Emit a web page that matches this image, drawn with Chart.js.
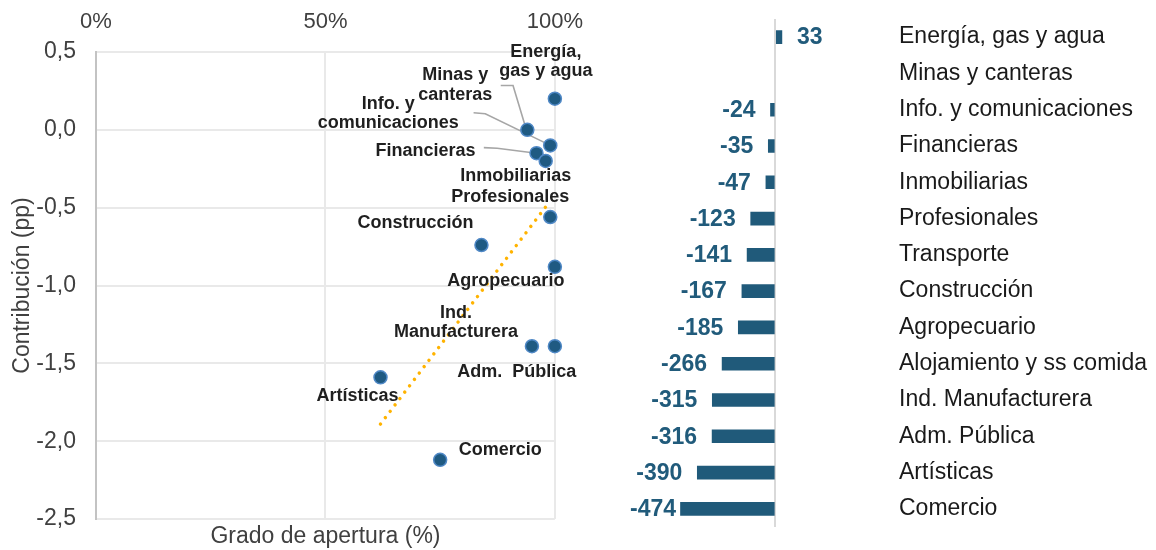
<!DOCTYPE html>
<html>
<head>
<meta charset="utf-8">
<script src="https://cdn.jsdelivr.net/npm/chart.js@4.4.1/dist/chart.umd.min.js"></script>
<style>
  html, body { margin: 0; padding: 0; background: #ffffff; }
  #wrap { position: relative; width: 1156px; height: 550px; overflow: hidden; }
  #c1 { position: absolute; left: 0; top: 0; }
  #c2 { position: absolute; left: 600px; top: 0; }
</style>
</head>
<body>
<div id="wrap">
  <canvas id="c1" width="600" height="550"></canvas>
  <canvas id="c2" width="556" height="550"></canvas>
</div>
<script>
// ---------------- DATA ----------------
const sectors = ['Energía, gas y agua', 'Minas y canteras', 'Info. y comunicaciones', 'Financieras',
  'Inmobiliarias', 'Profesionales', 'Construcción', 'Agropecuario', 'Ind. Manufacturera',
  'Adm. Pública', 'Artísticas', 'Comercio'];
const sectorLabelLines = [['Energía,', 'gas y agua'], ['Minas y', 'canteras'], ['Info. y', 'comunicaciones'],
  ['Financieras'], ['Inmobiliarias'], ['Profesionales'], ['Construcción'], ['Agropecuario'],
  ['Ind.', 'Manufacturera'], ['Adm.  Pública'], ['Artísticas'], ['Comercio']];
const apertura = [100, 94, 99, 96, 98, 99, 84, 100, 95, 100, 62, 75];               // %
const contribucion = [0.2, 0.0, -0.1, -0.15, -0.2, -0.56, -0.74, -0.88, -1.39, -1.39, -1.59, -2.12]; // pp
const trendX = [62, 98.9];
const trendY = [-1.89, -0.46];
const xTickValues = [0, 50, 100];
const yTickValues = [0.5, 0, -0.5, -1, -1.5, -2, -2.5];

const barCategories = ['Energía, gas y agua', 'Minas y canteras', 'Info. y comunicaciones', 'Financieras',
  'Inmobiliarias', 'Profesionales', 'Transporte', 'Construcción', 'Agropecuario',
  'Alojamiento y ss comida', 'Ind. Manufacturera', 'Adm. Pública', 'Artísticas', 'Comercio'];
const barValues = [33, null, -24, -35, -47, -123, -141, -167, -185, -266, -315, -316, -390, -474];

// ---------------- STYLE / LAYOUT ----------------
const FONT = '"Liberation Sans", Arial, Helvetica, sans-serif';
const labelLayout = [
  { dx: -9,   dy: -42,  leader: null },
  { dx: -72,  dy: -49.5, leader: [[-26.6, -44.4], [-14.3, -44.4], [-2.5, -5]] },
  { dx: -162, dy: -36.5, leader: [[-76.7, -32.7], [-65, -31.7], [-4, -2]] },
  { dx: -111, dy: 2.7,  leader: [[-52.7, -5.6], [-39.3, -5], [-4, -0.5]] },
  { dx: -30,  dy: 20,   leader: null },
  { dx: -40,  dy: -14.6, leader: null },
  { dx: -66,  dy: -16.6, leader: null },
  { dx: -49,  dy: 18.7, leader: null },
  { dx: -76,  dy: -28.4, leader: null },
  { dx: -38,  dy: 31,   leader: null },
  { dx: -23,  dy: 24,   leader: null },
  { dx: 60,   dy: -5,   leader: null }
];

const scatterLabels = {
  id: 'scatterLabels',
  beforeDatasetsDraw(chart) {
    const ctx = chart.ctx;
    const meta = chart.getDatasetMeta(0);
    ctx.save();
    ctx.strokeStyle = '#a6a6a6';
    ctx.lineWidth = 1.6;
    meta.data.forEach((pt, i) => {
      const L = labelLayout[i];
      if (!L || !L.leader) return;
      ctx.beginPath();
      L.leader.forEach(([dx, dy], k) => {
        const X = pt.x + dx, Y = pt.y + dy;
        if (k === 0) ctx.moveTo(X, Y); else ctx.lineTo(X, Y);
      });
      ctx.stroke();
    });
    ctx.restore();
  },
  afterDatasetsDraw(chart) {
    const ctx = chart.ctx;
    const meta = chart.getDatasetMeta(0);
    ctx.save();
    ctx.font = 'bold 18px ' + FONT;
    ctx.fillStyle = '#1f1f1f';
    ctx.textAlign = 'center';
    ctx.textBaseline = 'alphabetic';
    meta.data.forEach((pt, i) => {
      const L = labelLayout[i];
      sectorLabelLines[i].forEach((s, k) => {
        ctx.fillText(s, pt.x + L.dx, pt.y + L.dy + k * 19.3);
      });
    });
    ctx.restore();
  }
};

new Chart(document.getElementById('c1'), {
  type: 'scatter',
  data: {
    datasets: [
      {
        label: 'Sectores',
        data: apertura.map((x, i) => ({ x: x, y: contribucion[i] })),
        backgroundColor: '#1F5A82',
        borderColor: '#4F88C6',
        borderWidth: 1.5,
        pointRadius: 6.5,
        clip: false,
        order: 1
      },
      {
        label: 'Tendencia',
        type: 'line',
        data: trendX.map((x, i) => ({ x: x, y: trendY[i] })),
        borderColor: '#FFB300',
        borderWidth: 3.5,
        borderDash: [0.01, 8],
        borderCapStyle: 'round',
        pointRadius: 0,
        fill: false,
        clip: false,
        order: 2
      }
    ]
  },
  options: {
    responsive: false,
    animation: false,
    events: [],
    layout: { padding: { left: 0, right: 45, top: 0, bottom: 0 } },
    plugins: { legend: { display: false }, tooltip: { enabled: false } },
    scales: {
      x: {
        type: 'linear', position: 'top', min: 0, max: 100,
        afterBuildTicks: s => { s.ticks = xTickValues.map(v => ({ value: v })); },
        afterFit: s => { s.height = 52; },
        ticks: { padding: 17, color: '#404040', font: { family: FONT, size: 22 }, callback: v => v + '%' },
        grid: { color: '#e9e9e9', lineWidth: 2, drawTicks: false },
        border: { display: false }
      },
      x2: {
        type: 'linear', position: 'bottom', min: 0, max: 100,
        afterFit: s => { s.height = 31; },
        ticks: { display: false },
        grid: { display: false, drawTicks: false },
        border: { display: false },
        title: { display: true, text: 'Grado de apertura (%)', color: '#404040',
                 font: { family: FONT, size: 23 }, padding: { top: 0, bottom: 0 } }
      },
      y: {
        type: 'linear', position: 'left', min: -2.5, max: 0.5,
        afterBuildTicks: s => { s.ticks = yTickValues.map(v => ({ value: v })); },
        afterFit: s => { s.width = 96; },
        ticks: { padding: 20, color: '#404040', font: { family: FONT, size: 23, lineHeight: 0.8 },
                 callback: v => v.toFixed(1).replace('.', ',') },
        grid: { color: '#e9e9e9', lineWidth: 2, drawTicks: false },
        border: { display: true, color: '#c3c3c3', width: 2 },
        title: { display: true, text: 'Contribución (pp)', color: '#404040',
                 font: { family: FONT, size: 23 }, padding: { top: 9, bottom: 0 } }
      }
    }
  },
  plugins: [scatterLabels]
});

const barLabels = {
  id: 'barLabels',
  afterDatasetsDraw(chart) {
    const ctx = chart.ctx;
    const meta = chart.getDatasetMeta(0);
    ctx.save();
    ctx.font = 'bold 23px ' + FONT;
    ctx.fillStyle = '#215B7B';
    ctx.textBaseline = 'middle';
    meta.data.forEach((bar, i) => {
      const v = barValues[i];
      if (v === null || v === undefined) return;
      const s = String(v);
      const w = ctx.measureText(s).width;
      if (v >= 0) {
        ctx.textAlign = 'left';
        ctx.fillText(s, bar.x + 15, bar.y + 1);
      } else {
        ctx.textAlign = 'right';
        ctx.fillText(s, Math.max(bar.x - 15, 30 + w), bar.y + 1);
      }
    });
    ctx.restore();
  }
};

new Chart(document.getElementById('c2'), {
  type: 'bar',
  data: {
    labels: barCategories,
    datasets: [{
      label: 'Variación',
      data: barValues,
      backgroundColor: '#205A7A',
      barThickness: 13
    }]
  },
  options: {
    indexAxis: 'y',
    responsive: false,
    animation: false,
    events: [],
    layout: { padding: { left: 75.3, right: 0, top: 19, bottom: 23 } },
    plugins: { legend: { display: false }, tooltip: { enabled: false } },
    scales: {
      x: {
        type: 'linear', min: -500, max: 618.5,
        afterBuildTicks: s => { s.ticks = [{ value: 0 }]; },
        afterFit: s => { s.height = 0; },
        ticks: { display: false },
        grid: { color: '#d9d9d9', lineWidth: 2, drawTicks: false },
        border: { display: false }
      },
      y: {
        type: 'category', position: 'right',
        afterFit: s => { s.width = 257; },
        ticks: { padding: 0, color: '#1a1a1a', font: { family: FONT, size: 23 } },
        grid: { display: false, drawTicks: false },
        border: { display: false }
      }
    }
  },
  plugins: [barLabels]
});
</script>
</body>
</html>
